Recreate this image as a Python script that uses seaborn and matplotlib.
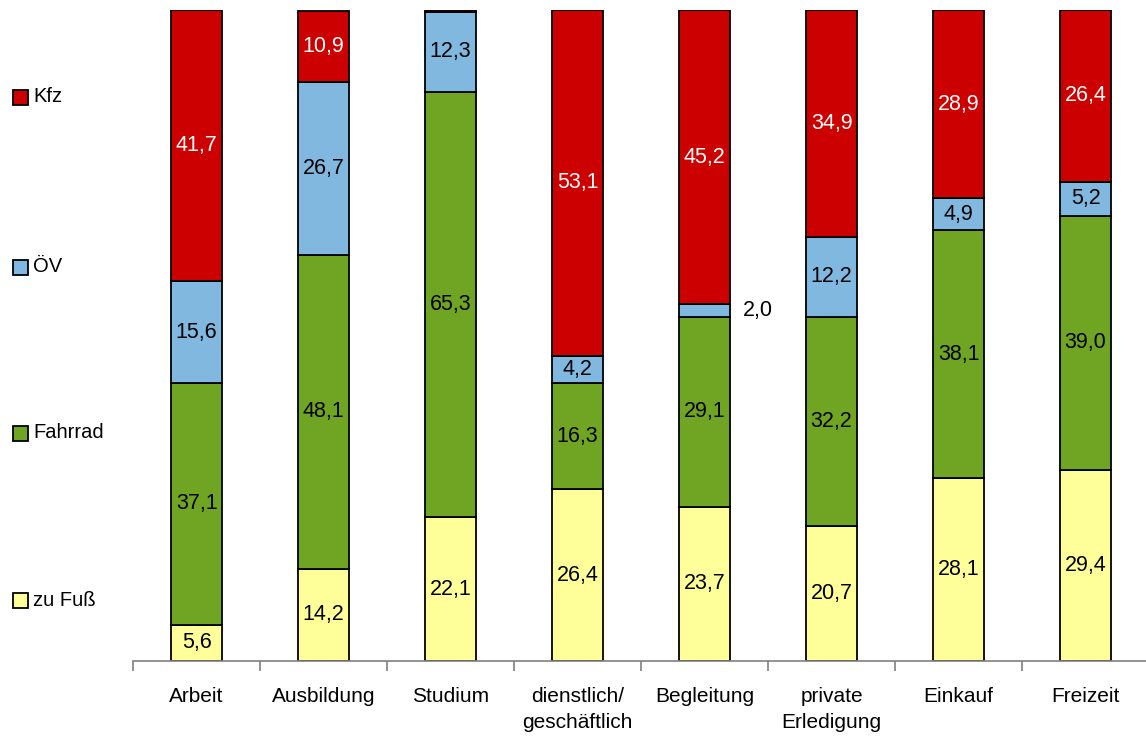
import numpy as np
import pandas as pd
import matplotlib
matplotlib.use("Agg")
import matplotlib.pyplot as plt
from matplotlib.patches import Rectangle
import seaborn as sns

categories = ['Arbeit', 'Ausbildung', 'Studium', 'dienstlich/\ngeschäftlich',
              'Begleitung', 'private\nErledigung', 'Einkauf', 'Freizeit']
series = ['zu Fuß', 'Fahrrad', 'ÖV', 'Kfz']
zu_fuss = [5.6, 14.2, 22.1, 26.4, 23.7, 20.7, 28.1, 29.4]
fahrrad = [37.1, 48.1, 65.3, 16.3, 29.1, 32.2, 38.1, 39.0]
oev = [15.6, 26.7, 12.3, 4.2, 2.0, 12.2, 4.9, 5.2]
kfz = [41.7, 10.9, 0.3, 53.1, 45.2, 34.9, 28.9, 26.4]
colors = ['#FFFF99', '#6FA523', '#80B8DF', '#CC0000']
text_colors = ['black', 'black', 'black', 'white']

sns.set_style('white')
plt.rcParams['font.family'] = ['Liberation Sans', 'DejaVu Sans']
plt.rcParams['text.color'] = 'black'
plt.rcParams['xtick.color'] = 'black'

df = pd.DataFrame({'cat': categories, 'zu Fuß': zu_fuss, 'Fahrrad': fahrrad,
                   'ÖV': oev, 'Kfz': kfz})

fig = plt.figure(figsize=(11.46, 7.44), dpi=100)
ax = fig.add_axes([0.1161, 0.1116, 0.8866, 0.875])

bottom = np.zeros(len(categories))
for s, c, tc in zip(series, colors, text_colors):
    vals = df[s].values
    sns.barplot(data=df, x='cat', y=s, bottom=bottom, color=c, saturation=1,
                width=0.4, edgecolor='black', linewidth=1.3, ax=ax)
    for i, v in enumerate(vals):
        if v < 1:
            continue
        label = f'{v:.1f}'.replace('.', ',')
        if v < 3:
            ax.text(i + 0.3, bottom[i] + v / 2, label, ha='left', va='center',
                    fontsize=15.5, color='black')
        else:
            ax.text(i, bottom[i] + v / 2, label, ha='center', va='center',
                    fontsize=15.5, color=tc)
    bottom = bottom + vals

ax.set_xlim(-0.5, 7.5)
ax.set_ylim(0, 100)
ax.set_xlabel('')
ax.set_ylabel('')
ax.set_yticks([])
for sp in ['top', 'right', 'left']:
    ax.spines[sp].set_visible(False)
ax.spines['bottom'].set_color('#808080')
ax.spines['bottom'].set_linewidth(1.2)
ax.set_xticks(np.arange(len(categories)))
ax.set_xticklabels(categories, fontsize=15, linespacing=1.45, color='black')
ax.set_xticks(np.arange(-0.5, len(categories)), minor=True)
ax.tick_params(axis='x', which='major', bottom=False, length=0, pad=19)
ax.tick_params(axis='x', which='minor', bottom=True, length=7, width=1.2,
               color='#808080', direction='out')

# legend on the left
leg_y = [97, 267, 433, 600]
for s, c, y in zip(series[::-1], colors[::-1], leg_y):
    yf = 1 - y / 744
    fig.patches.append(Rectangle((13 / 1146, yf - 7.5 / 744), 15 / 1146, 15 / 744,
                                 transform=fig.transFigure, facecolor=c,
                                 edgecolor='black', linewidth=1.3))
    fig.text(33 / 1146, yf, s, ha='left', va='center', fontsize=14.5)

fig.savefig('out.png', dpi=100)
